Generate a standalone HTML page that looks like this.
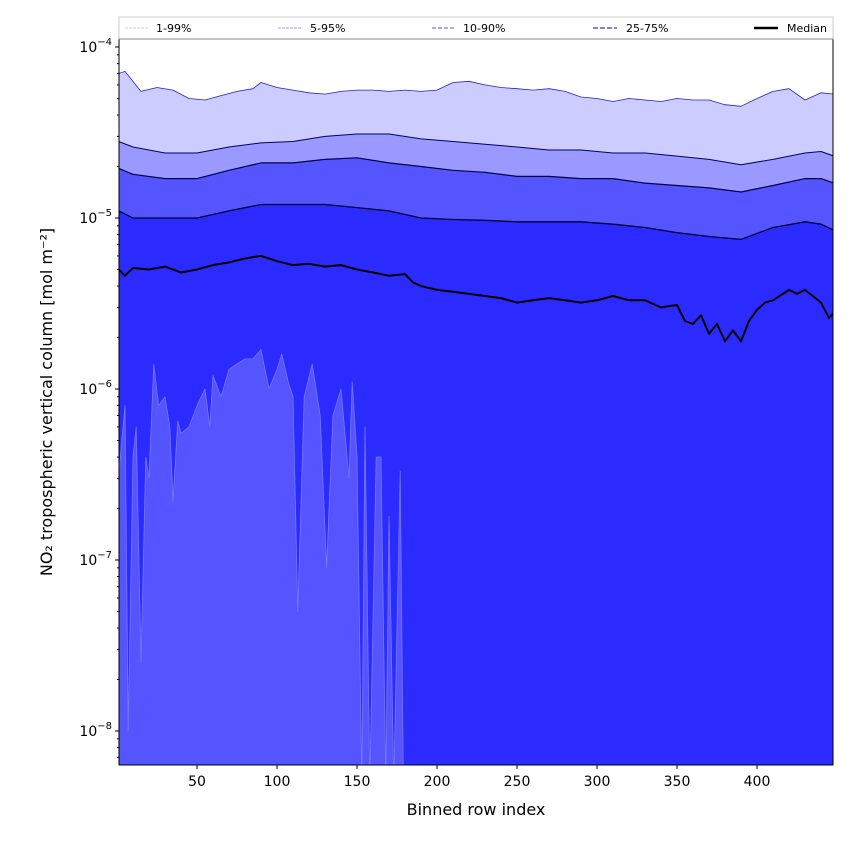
<!DOCTYPE html>
<html><head><meta charset="utf-8"><style>
body{margin:0;background:#fff}
svg text{font-family:"DejaVu Sans","Liberation Sans",sans-serif}
</style></head><body>
<svg id="c" width="850" height="850" viewBox="0 0 850 850" xmlns="http://www.w3.org/2000/svg">
<defs><clipPath id="clip"><rect x="119" y="39" width="714" height="726"/></clipPath></defs>
<g id="plot" clip-path="url(#clip)"></g>
<g id="axes"></g>
</svg>
<script>
const xs99 = [1,5,15,25,35,45,55,65,75,85,90,100,110,120,130,140,150,160,170,180,190,200,210,220,230,240,250,260,270,280,290,300,310,320,330,340,350,360,370,380,390,400,410,420,430,440,448];
const p99 = [7e-5,7.2e-5,5.5e-5,5.8e-5,5.6e-5,5.0e-5,4.9e-5,5.2e-5,5.5e-5,5.7e-5,6.2e-5,5.8e-5,5.6e-5,5.4e-5,5.3e-5,5.5e-5,5.6e-5,5.6e-5,5.5e-5,5.6e-5,5.5e-5,5.6e-5,6.2e-5,6.3e-5,6.0e-5,5.8e-5,5.7e-5,5.6e-5,5.7e-5,5.5e-5,5.1e-5,5.0e-5,4.8e-5,5.0e-5,4.9e-5,4.8e-5,5.0e-5,4.9e-5,4.9e-5,4.6e-5,4.5e-5,5.0e-5,5.5e-5,5.7e-5,4.9e-5,5.4e-5,5.3e-5];
const xsMid = [1,10,30,50,70,90,110,130,150,170,190,210,230,250,270,290,310,330,350,370,390,410,430,440,448];
const p95 = [2.8e-5,2.6e-5,2.4e-5,2.4e-5,2.6e-5,2.75e-5,2.8e-5,3.0e-5,3.1e-5,3.1e-5,2.9e-5,2.8e-5,2.7e-5,2.6e-5,2.5e-5,2.5e-5,2.4e-5,2.4e-5,2.3e-5,2.2e-5,2.05e-5,2.2e-5,2.4e-5,2.45e-5,2.3e-5];
const p90 = [1.95e-5,1.8e-5,1.7e-5,1.7e-5,1.9e-5,2.1e-5,2.1e-5,2.2e-5,2.25e-5,2.1e-5,2.0e-5,1.9e-5,1.85e-5,1.75e-5,1.75e-5,1.7e-5,1.7e-5,1.6e-5,1.55e-5,1.5e-5,1.42e-5,1.55e-5,1.7e-5,1.7e-5,1.6e-5];
const p75 = [1.1e-5,1.0e-5,1.0e-5,1.0e-5,1.1e-5,1.2e-5,1.2e-5,1.2e-5,1.15e-5,1.1e-5,1.0e-5,0.98e-5,0.97e-5,0.95e-5,0.95e-5,0.95e-5,0.92e-5,0.88e-5,0.82e-5,0.78e-5,0.75e-5,0.88e-5,0.95e-5,0.92e-5,0.85e-5];
const xsMed = [1,5,10,20,30,40,50,60,70,80,90,100,110,120,130,140,150,160,170,180,185,190,200,210,220,230,240,250,260,270,280,290,300,310,320,330,340,350,355,360,365,370,375,380,385,390,395,400,405,410,420,425,430,440,445,448];
const p50 = [5e-6,4.6e-6,5.1e-6,5.0e-6,5.2e-6,4.8e-6,5.0e-6,5.3e-6,5.5e-6,5.8e-6,6.0e-6,5.6e-6,5.3e-6,5.4e-6,5.2e-6,5.3e-6,5.0e-6,4.8e-6,4.6e-6,4.7e-6,4.2e-6,4.0e-6,3.8e-6,3.7e-6,3.6e-6,3.5e-6,3.4e-6,3.2e-6,3.3e-6,3.4e-6,3.3e-6,3.2e-6,3.3e-6,3.5e-6,3.3e-6,3.3e-6,3.0e-6,3.1e-6,2.5e-6,2.4e-6,2.7e-6,2.1e-6,2.4e-6,1.9e-6,2.2e-6,1.9e-6,2.5e-6,2.9e-6,3.2e-6,3.3e-6,3.8e-6,3.6e-6,3.8e-6,3.2e-6,2.6e-6,2.8e-6];
const xs25 = [1,3,5,7,10,12,15,18,20,23,26,30,33,35,38,40,45,50,55,58,60,65,70,75,80,85,90,95,100,103,107,110,113,117,122,127,131,135,140,145,147,150,153,155,158,162,165,168,170,173,177,179,448];
const p25 = [3e-7,5e-7,8e-7,1e-8,4e-7,6e-7,2.5e-8,4e-7,3e-7,1.4e-6,8e-7,9e-7,6e-7,2.2e-7,6.5e-7,5.5e-7,6e-7,8e-7,1e-6,6e-7,1.2e-6,9e-7,1.3e-6,1.4e-6,1.5e-6,1.5e-6,1.7e-6,1e-6,1.3e-6,1.6e-6,1.1e-6,9e-7,5e-8,9e-7,1.4e-6,7e-7,9e-8,7e-7,1e-6,3e-7,1.1e-6,4e-7,0,6e-7,0,4e-7,4e-7,0,1.8e-7,0,3.3e-7,0,0];
const xTicks = [50,100,150,200,250,300,350,400];
const yTicks = [-8,-7,-6,-5,-4];

const X0=119,X1=833,Y0=39,Y1=765;
const xmin=1.25,xmax=447.5;
const lmin=-8-34/171, lmax=-4+8/171;
const sx=x=>X0+(x-xmin)/(xmax-xmin)*(X1-X0);
const sy=v=>v<=0?Y1+20:Y1-(Math.log10(v)-lmin)/(lmax-lmin)*(Y1-Y0);
const NS='http://www.w3.org/2000/svg';
const plot=document.getElementById('plot'),axes=document.getElementById('axes');
function mk(tag,attrs,parent){const e=document.createElementNS(NS,tag);for(const k in attrs)e.setAttribute(k,attrs[k]);parent.appendChild(e);return e;}
function pts(xs,vs){return xs.map((x,i)=>sx(x).toFixed(1)+','+sy(vs[i]).toFixed(1));}
function area(xs,vs,fill,name){
  const p=pts(xs,vs);
  const d='M'+sx(xs[0])+','+(Y1+30)+' L'+p.join(' L')+' L'+sx(xs[xs.length-1])+','+(Y1+30)+'Z';
  const e=mk('path',{d:d,fill:fill,stroke:'none'},plot);
  
  
}
function line(xs,vs,color,w,name){
  const e=mk('polyline',{points:pts(xs,vs).join(' '),fill:'none',stroke:color,'stroke-width':w,'stroke-linejoin':'round'},plot);
  
  
}
area(xs99,p99,'#ccccff','band-1-99');
area(xsMid,p95,'#9999ff','band-5-95');
area(xsMid,p90,'#5555ff','band-10-90');
area(xsMid,p75,'#2b2bff','band-25-75');
area(xs25,p25,'#5555ff','below-p25');
line(xs25,p25,'#7777ff',0.8,'p25-line');
line(xs99,p99,'#2222cc',0.8,'p99-line');
line(xsMid,p95,'#000066',1,'p95-line');
line(xsMid,p90,'#000044',1.2,'p90-line');
line(xsMid,p75,'#000033',1.3,'p75-line');
line(xsMed,p50,'#000000',2,'median-line');

const fr=mk('rect',{x:X0,y:Y0,width:X1-X0,height:Y1-Y0,fill:'none',stroke:'#000','stroke-width':1},axes);

xTicks.forEach(t=>{
  const x=sx(t);
  mk('line',{x1:x,x2:x,y1:Y1,y2:Y1+4,stroke:'#000'},axes);
  const tx=mk('text',{x:x,y:Y1+21,'text-anchor':'middle','font-size':14},axes);
  tx.textContent=t;
  
  
});
for(let d=-9;d<=-4;d++){for(let m=2;m<=9;m++){const v=m*Math.pow(10,d);const y=sy(v);if(y>Y0&&y<Y1)mk('line',{x1:X0-2,x2:X0,y1:y,y2:y,stroke:'#000'},axes);}}
yTicks.forEach(t=>{
  const y=sy(Math.pow(10,t));
  mk('line',{x1:X0-4,x2:X0,y1:y,y2:y,stroke:'#000'},axes);
  const tx=mk('text',{x:X0-7,y:y+5,'text-anchor':'end','font-size':14},axes);
  tx.innerHTML='10<tspan dy="-7" font-size="10">−'+(-t)+'</tspan>';
  
  
});
</script>
<svg style="position:absolute;left:0;top:0" width="850" height="850">
<text x="476" y="815" text-anchor="middle" font-size="16" font-family="DejaVu Sans, sans-serif">Binned row index</text>
<text transform="translate(52,402) rotate(-90)" text-anchor="middle" font-size="16" font-family="DejaVu Sans, sans-serif">NO₂ tropospheric vertical column [mol m⁻²]</text>
<g font-family="DejaVu Sans, sans-serif" font-size="11">
<rect x="119" y="17" width="714" height="22" fill="#fff" stroke="#ccc"/>
<line x1="119" y1="39" x2="833" y2="39" stroke="#888"/>
<line x1="125" y1="28" x2="149" y2="28" stroke="#ccccff" stroke-dasharray="3,1"/>
<text x="156" y="32">1-99%</text>
<line x1="278" y1="28" x2="302" y2="28" stroke="#9999ff" stroke-dasharray="3,1"/>
<text x="310" y="32">5-95%</text>
<line x1="432" y1="28" x2="456" y2="28" stroke="#7777ee" stroke-width="1.3" stroke-dasharray="4,2"/>
<text x="463" y="32">10-90%</text>
<line x1="593" y1="28" x2="617" y2="28" stroke="#5555ee" stroke-width="1.6" stroke-dasharray="5,2"/>
<text x="626" y="32">25-75%</text>
<line x1="754" y1="28" x2="778" y2="28" stroke="#000" stroke-width="2.5"/>
<text x="787" y="32">Median</text>
</g>
</svg>
</body></html>
